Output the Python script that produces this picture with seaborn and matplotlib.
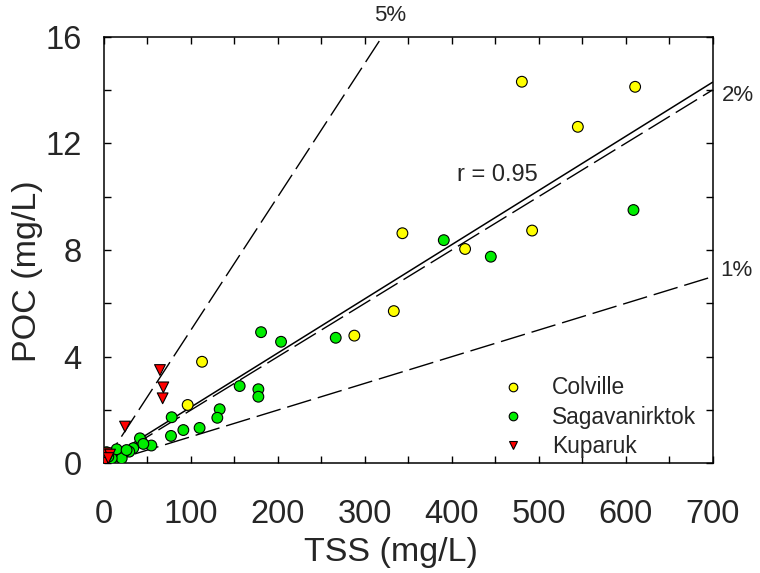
import numpy as np
import pandas as pd
import matplotlib
matplotlib.use("Agg")
import matplotlib.pyplot as plt
import seaborn as sns
from matplotlib.ticker import MultipleLocator

# TSS (mg/L) and POC (mg/L) for each river
colville_tss = [480.7, 611.0, 545.1, 343.3, 415.4, 492.5, 333.4, 288.0, 112.8, 96.3, 43.0]
colville_poc = [14.31, 14.12, 12.62, 8.63, 8.04, 8.73, 5.71, 4.79, 3.81, 2.19, 0.85]

sag_tss = [609.1, 390.9, 445.0, 266.6, 180.7, 203.7, 156.1, 177.6, 177.6, 133.1,
           130.4, 77.9, 77.1, 91.3, 110.0, 41.4, 54.5, 45.3, 33.7, 29.1,
           22.2, 16.5, 12.7, 20.4, 8.9, 3.0, 14.6, 26.0, 5.0]
sag_poc = [9.50, 8.37, 7.75, 4.71, 4.92, 4.56, 2.90, 2.78, 2.50, 2.03,
           1.71, 1.73, 1.03, 1.25, 1.33, 0.94, 0.67, 0.73, 0.57, 0.44,
           0.38, 0.38, 0.28, 0.19, 0.19, 0.42, 0.53, 0.50, 0.25]

kup_tss = [64.4, 68.3, 67.5, 24.2, 3.0, 7.0, 0.0, 1.0, 5.0]
kup_poc = [3.50, 2.85, 2.44, 1.38, 0.38, 0.33, 0.13, 0.02, 0.20]

rivers = ["Colville", "Sagavanirktok", "Kuparuk"]
river_colors = {"Colville": "#FFFF00", "Sagavanirktok": "#00EE00", "Kuparuk": "#FF0000"}
river_markers = {"Colville": "o", "Sagavanirktok": "o", "Kuparuk": "v"}

# POC as a fixed fraction of TSS
ratio_values = [0.05, 0.02, 0.01]
ratio_labels = ["5%", "2%", "1%"]
ratio_label_pos = [(329, 16.8), (711, 13.8), (709, 7.25)]

# least-squares fit over all samples
fit_slope = 0.0203
fit_intercept = 0.08
fit_label = "r = 0.95"

x_ticks = [0, 100, 200, 300, 400, 500, 600, 700]
y_ticks = [0, 4, 8, 12, 16]

df = pd.DataFrame({
    "TSS": colville_tss + sag_tss + kup_tss,
    "POC": colville_poc + sag_poc + kup_poc,
    "River": (["Colville"] * len(colville_tss) + ["Sagavanirktok"] * len(sag_tss)
              + ["Kuparuk"] * len(kup_tss)),
})

sns.set_theme(style="white")
plt.rcParams["font.family"] = ["Liberation Sans", "DejaVu Sans"]

fig = plt.figure(figsize=(7.6, 5.73), dpi=100)
ax = fig.add_axes([0.1368, 0.1913, 0.8007, 0.7447])

xs = np.array([0.0, 700.0])
for r in ratio_values:
    ax.plot(xs, r * xs, color="black", lw=1.0, dashes=(18, 5), zorder=1)
ax.plot(xs, fit_slope * xs + fit_intercept, color="black", lw=1.1, zorder=1)

sns.scatterplot(data=df, x="TSS", y="POC", hue="River", style="River",
                hue_order=rivers, style_order=rivers, palette=river_colors,
                markers=river_markers, s=60, edgecolor="black", linewidth=0.8,
                ax=ax, zorder=3, legend=True)

for lab, (tx, ty) in zip(ratio_labels, ratio_label_pos):
    ha = "center" if tx < 700 else "left"
    ax.text(tx, ty, lab, fontsize=16, ha=ha, va="center", clip_on=False)
ax.text(452, 10.8, fit_label, fontsize=17, ha="center", va="center")

ax.set_xlim(0, 700)
ax.set_ylim(0, 16)
ax.set_xticks(x_ticks)
ax.set_yticks(y_ticks)
ax.xaxis.set_minor_locator(MultipleLocator(50))
ax.yaxis.set_minor_locator(MultipleLocator(2))
ax.tick_params(which="both", direction="in", length=5, width=1.0, color="black",
               top=True, right=True, bottom=True, left=True)
ax.tick_params(axis="x", labelsize=23.5, pad=26)
ax.tick_params(axis="y", labelsize=23.5, pad=16)
for sp in ax.spines.values():
    sp.set_color("black")
    sp.set_linewidth(1.1)
    sp.set_visible(True)

ax.set_xlabel("TSS (mg/L)", fontsize=24.5)
ax.set_ylabel("POC (mg/L)", fontsize=24.5)
ax.xaxis.set_label_coords(0.472, -0.172)
ax.yaxis.set_label_coords(-0.10, 0.45)

handles, labels = ax.get_legend_handles_labels()
ax.legend(handles, labels, loc="upper left", bbox_to_anchor=(0.62, 0.225),
          frameon=False, fontsize=16.4, handletextpad=0.7, labelspacing=0.28,
          borderaxespad=0, markerscale=0.8)

fig.savefig("out.png", dpi=100)
